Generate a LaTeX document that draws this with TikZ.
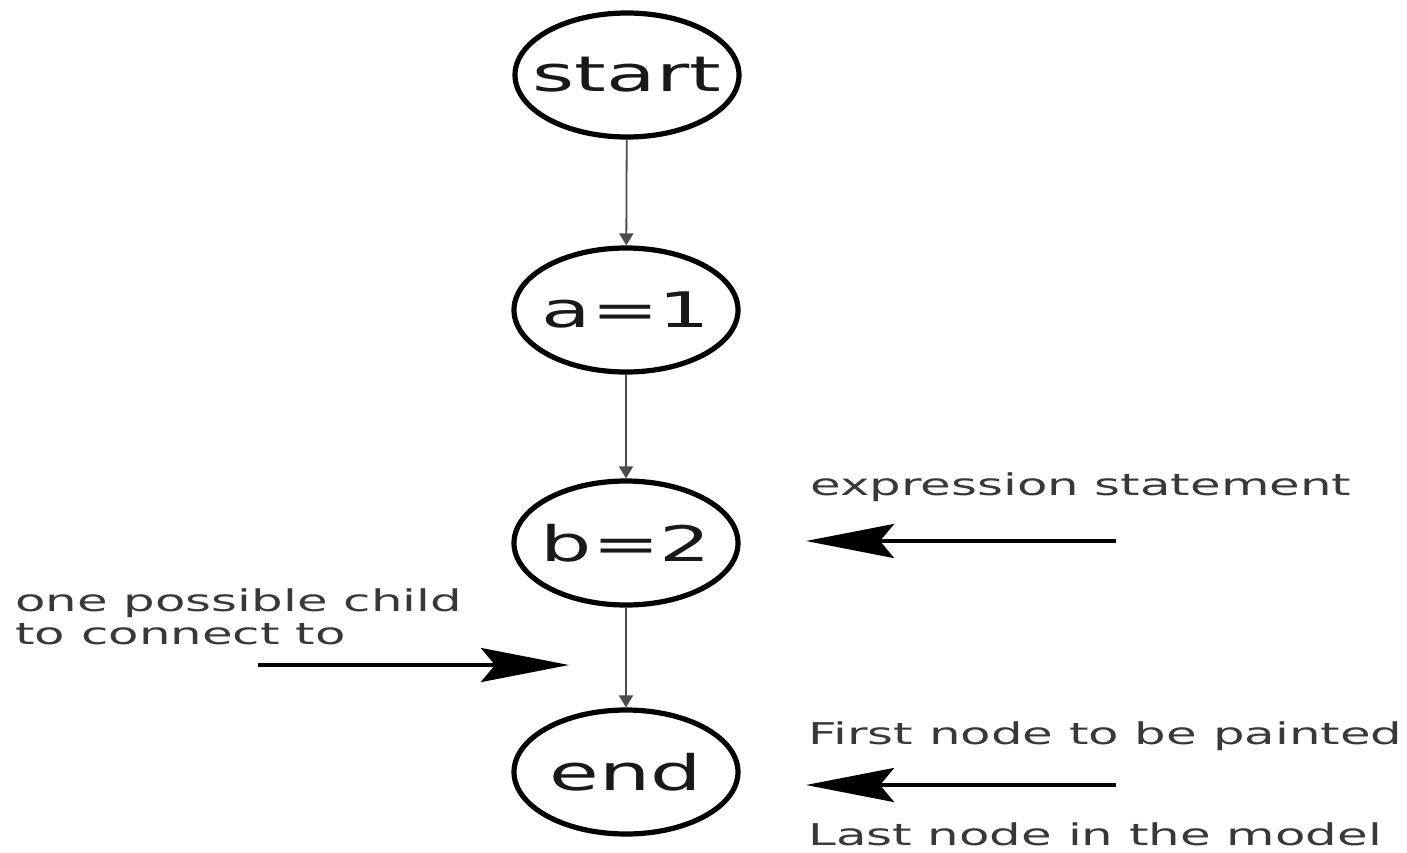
\documentclass[tikz,border=0pt]{standalone}
\usepackage{fontspec}
\usetikzlibrary{shapes.geometric,arrows.meta}
\newfontfamily\statefont{DejaVu Sans}[FakeStretch=1.65]
\newfontfamily\notefont{DejaVu Sans}[FakeStretch=1.66]
% state text is centred without widening the ellipse
\newcommand\statetext[1]{\makebox[0pt][c]{#1}}
\tikzset{
  state/.style={ellipse, draw=black, line width=2.6pt, minimum width=112pt,
    minimum height=62pt, inner sep=0pt, font=\statefont\fontsize{24.5}{28}\selectfont,
    text=black!90},
  flow/.style={draw=black!70, line width=0.9pt,
    -{Triangle[length=6pt,width=7pt]}},
  note/.style={anchor=west, inner sep=0pt, text=black!78,
    font=\notefont\fontsize{15}{16.5}\selectfont, align=left},
  pointer/.style={draw=black, line width=2pt,
    -{Stealth[length=44pt,width=17pt,inset=7pt]}}
}
\begin{document}
\begin{tikzpicture}[x=0.5pt,y=-0.5pt]
  \useasboundingbox (0,0) rectangle (1407,852);

  % states of the flow graph
  \node[state] (start) at (627,75)  {\statetext{start}};
  \node[state] (a)     at (626,310) {\statetext{a=1}};
  \node[state] (b)     at (626,543) {\statetext{b=2}};
  \node[state] (end)   at (626,772) {\statetext{end}};

  \draw[flow] (start) -- (a);
  \draw[flow] (a) -- (b);
  \draw[flow] (b) -- (end);

  % annotations
  \node[note] (expr)  at (810,487) {expression statement};
  \node[note] (child) at (15,617)  {one possible child\\to connect to};
  \node[note] (first) at (808,736) {First node to be painted};
  \node[note] (last)  at (808,834) {Last node in the model};

  \coordinate (exprtail)  at (1116,541);
  \coordinate (exprtip)   at (806,541);
  \coordinate (childtail) at (258,665);
  \coordinate (childtip)  at (569,665);
  \coordinate (endtail)   at (1116,785);
  \coordinate (endtip)    at (806,785);

  \draw[pointer] (exprtail) -- (exprtip);
  \draw[pointer] (childtail) -- (childtip);
  \draw[pointer] (endtail) -- (endtip);
\end{tikzpicture}
\end{document}
